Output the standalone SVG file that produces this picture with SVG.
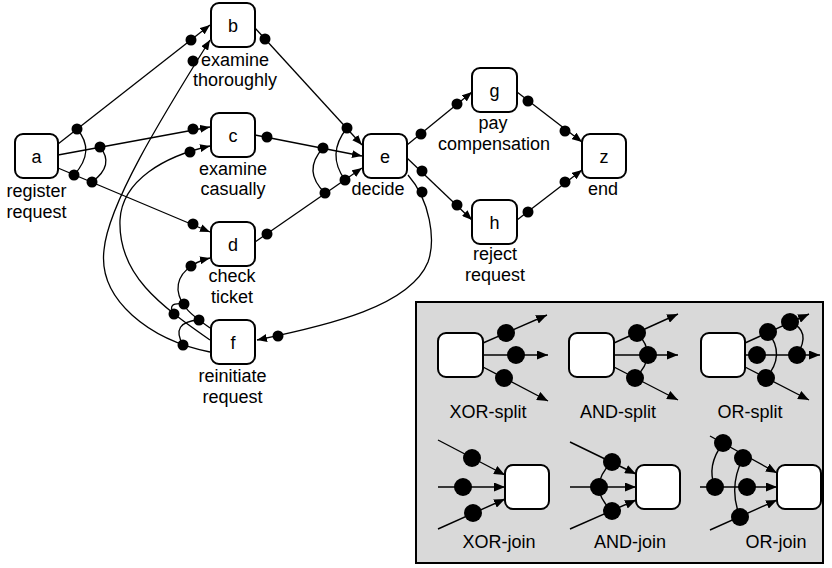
<svg xmlns="http://www.w3.org/2000/svg" width="832" height="568" viewBox="0 0 832 568">
  <style>
    .box { fill: #ffffff; stroke: #000000; stroke-width: 2; }
    .lbl { font-family: "Liberation Sans", Arial, sans-serif; font-size: 18px; fill: #000000; text-anchor: middle; }
    .arc { fill: none; stroke: #000000; stroke-width: 1.3; }
    .edge { fill: none; stroke: #000000; stroke-width: 1.3; marker-end: url(#arr); }
    .dot { fill: #000000; }
    .ledge { fill: none; stroke: #000000; stroke-width: 1.4; marker-end: url(#arrL); }
    .larc { fill: none; stroke: #000000; stroke-width: 1.4; }
  </style>
  <defs>
    <marker id="arr" viewBox="0 0 10 8" markerWidth="10" markerHeight="8" markerUnits="userSpaceOnUse" refX="10" refY="4" orient="auto">
      <path d="M0,0 L10,4 L0,8 z" fill="#000000"/>
    </marker>
    <marker id="arrL" viewBox="0 0 11 9" markerWidth="11" markerHeight="9" markerUnits="userSpaceOnUse" refX="11" refY="4.5" orient="auto">
      <path d="M0,0 L11,4.5 L0,9 z" fill="#000000"/>
    </marker>
  </defs>

  <rect width="832" height="568" fill="#ffffff"/>

  <!-- activities -->
  <g id="node-a">
    <rect class="box" x="15" y="134" width="43" height="44" rx="8"/>
    <text class="lbl" x="36.5" y="163">a</text>
    <text class="lbl" x="36.5" y="197">register</text>
    <text class="lbl" x="36.5" y="218">request</text>
  </g>
  <g id="node-b">
    <rect class="box" x="211" y="3" width="44" height="44" rx="8"/>
    <text class="lbl" x="233" y="32">b</text>
    <text class="lbl" x="235" y="66">examine</text>
    <text class="lbl" x="235" y="86">thoroughly</text>
  </g>
  <g id="node-c">
    <rect class="box" x="211" y="113" width="44" height="44" rx="8"/>
    <text class="lbl" x="233" y="142">c</text>
    <text class="lbl" x="233" y="175">examine</text>
    <text class="lbl" x="233" y="195">casually</text>
  </g>
  <g id="node-d">
    <rect class="box" x="211" y="222" width="44" height="44" rx="8"/>
    <text class="lbl" x="233" y="251">d</text>
    <text class="lbl" x="232" y="282">check</text>
    <text class="lbl" x="232" y="303">ticket</text>
  </g>
  <g id="node-f">
    <rect class="box" x="211" y="320" width="44" height="44" rx="8"/>
    <text class="lbl" x="233" y="349">f</text>
    <text class="lbl" x="232.5" y="382">reinitiate</text>
    <text class="lbl" x="232.5" y="403">request</text>
  </g>
  <g id="node-e">
    <rect class="box" x="363" y="134" width="44" height="44" rx="8"/>
    <text class="lbl" x="385" y="163">e</text>
    <text class="lbl" x="378" y="195">decide</text>
  </g>
  <g id="node-g">
    <rect class="box" x="472" y="68" width="45" height="44" rx="8"/>
    <text class="lbl" x="494.5" y="97">g</text>
    <text class="lbl" x="493" y="129">pay</text>
    <text class="lbl" x="494" y="150">compensation</text>
  </g>
  <g id="node-h">
    <rect class="box" x="472" y="200" width="45" height="44" rx="8"/>
    <text class="lbl" x="494.5" y="229">h</text>
    <text class="lbl" x="495" y="260">reject</text>
    <text class="lbl" x="495" y="281">request</text>
  </g>
  <g id="node-z">
    <rect class="box" x="582" y="134" width="44" height="44" rx="8"/>
    <text class="lbl" x="604" y="163">z</text>
    <text class="lbl" x="603" y="195">end</text>
  </g>

  <!-- causal arcs with their binding dots -->
  <g id="connectors">
    <path class="edge" d="M58,144 L210,25"/>
    <path class="edge" d="M58,155 L210,127"/>
    <path class="edge" d="M58,168 L210,232"/>
    <path class="arc" d="M77,129 Q96,151 74,175"/>
    <path class="arc" d="M100,147 Q115,165 92,182"/>

    <path class="edge" d="M255,28 L362,145"/>
    <path class="edge" d="M255,135 L362,156"/>
    <path class="edge" d="M255,242 L362,168"/>
    <path class="arc" d="M347,128 Q326,154 345,180"/>
    <path class="arc" d="M323,148 Q302,171 325,193"/>

    <path class="edge" d="M407,145 L472,92"/>
    <path class="edge" d="M407,158 L472,220"/>
    <path class="edge" d="M408,175 C430,200 436,240 428,262 C410,306 330,325 257,340"/>

    <path class="edge" d="M517,92 L582,142"/>
    <path class="edge" d="M517,220 L582,170"/>

    <path class="edge" d="M210,352 C150,340 98,300 104,250 C108,205 160,120 210,40"/>
    <path class="edge" d="M210,340 C160,305 118,275 120,220 C122,180 165,156 210,146"/>
    <path class="edge" d="M210,328 C196,318 180,308 178,290 C177,273 193,262 210,258"/>
    <path class="arc" d="M184,304 Q166,302 174,314"/>
    <path class="arc" d="M199,320 Q170,322 183,345"/>

    <g class="dot">
      <circle cx="77" cy="129" r="5.5"/>
      <circle cx="100" cy="147" r="5.5"/>
      <circle cx="74" cy="175" r="5.5"/>
      <circle cx="92" cy="182" r="5.5"/>
      <circle cx="191" cy="40" r="5.5"/>
      <circle cx="193" cy="129" r="5.5"/>
      <circle cx="193" cy="224" r="5.5"/>
      <circle cx="265" cy="39" r="5.5"/>
      <circle cx="267" cy="137" r="5.5"/>
      <circle cx="267" cy="234" r="5.5"/>
      <circle cx="347" cy="128" r="5.5"/>
      <circle cx="323" cy="148" r="5.5"/>
      <circle cx="345" cy="180" r="5.5"/>
      <circle cx="325" cy="193" r="5.5"/>
      <circle cx="421" cy="134" r="5.5"/>
      <circle cx="457" cy="104" r="5.5"/>
      <circle cx="422" cy="171" r="5.5"/>
      <circle cx="457" cy="205" r="5.5"/>
      <circle cx="422" cy="192" r="5.5"/>
      <circle cx="278" cy="336" r="5.5"/>
      <circle cx="528" cy="101" r="5.5"/>
      <circle cx="565" cy="131" r="5.5"/>
      <circle cx="528" cy="212" r="5.5"/>
      <circle cx="565" cy="182" r="5.5"/>
      <circle cx="193" cy="61" r="5.5"/>
      <circle cx="190" cy="152" r="5.5"/>
      <circle cx="191" cy="266" r="5.5"/>
      <circle cx="183" cy="345" r="5.5"/>
      <circle cx="174" cy="314" r="5.5"/>
      <circle cx="184" cy="304" r="5.5"/>
      <circle cx="199" cy="320" r="5.5"/>
    </g>
  </g>

  <!-- notation key -->
  <g id="legend">
    <rect x="416" y="302" width="407" height="261" fill="#d9d9d9" stroke="#000000" stroke-width="2"/>

    <!-- XOR-split -->
    <rect class="box" x="438" y="333" width="45" height="44" rx="8"/>
    <path class="ledge" d="M483,343 L547,315"/>
    <path class="ledge" d="M483,355 L548,355"/>
    <path class="ledge" d="M483,367 L548,401"/>
    <circle class="dot" cx="506" cy="333" r="9"/>
    <circle class="dot" cx="516" cy="355" r="9"/>
    <circle class="dot" cx="504" cy="378" r="9"/>
    <text class="lbl" x="488" y="418">XOR-split</text>

    <!-- AND-split -->
    <rect class="box" x="569" y="333" width="45" height="44" rx="8"/>
    <path class="ledge" d="M614,343 L678,314"/>
    <path class="ledge" d="M614,355 L678,355"/>
    <path class="ledge" d="M614,367 L678,400"/>
    <path class="larc" d="M637,333 Q659,355 635,378"/>
    <circle class="dot" cx="637" cy="333" r="9"/>
    <circle class="dot" cx="648" cy="355" r="9"/>
    <circle class="dot" cx="635" cy="378" r="9"/>
    <text class="lbl" x="618" y="418">AND-split</text>

    <!-- OR-split -->
    <rect class="box" x="701" y="333" width="44" height="44" rx="8"/>
    <path class="ledge" d="M745,343 L809,314"/>
    <path class="ledge" d="M745,355 L820,355"/>
    <path class="ledge" d="M745,367 L809,400"/>
    <path class="larc" d="M768,332 Q786,355 766,378"/>
    <path class="larc" d="M790,322 Q812,331 797,355"/>
    <circle class="dot" cx="768" cy="332" r="9"/>
    <circle class="dot" cx="790" cy="322" r="9"/>
    <circle class="dot" cx="757" cy="355" r="9"/>
    <circle class="dot" cx="797" cy="355" r="9"/>
    <circle class="dot" cx="766" cy="378" r="9"/>
    <text class="lbl" x="750" y="418">OR-split</text>

    <!-- XOR-join -->
    <rect class="box" x="505" y="465" width="44" height="44" rx="8"/>
    <path class="ledge" d="M438,440 L505,475"/>
    <path class="ledge" d="M438,487 L505,487"/>
    <path class="ledge" d="M438,529 L505,499"/>
    <circle class="dot" cx="472" cy="458" r="9"/>
    <circle class="dot" cx="463" cy="487" r="9"/>
    <circle class="dot" cx="473" cy="513" r="9"/>
    <text class="lbl" x="499" y="548">XOR-join</text>

    <!-- AND-join -->
    <rect class="box" x="636" y="465" width="44" height="44" rx="8"/>
    <path class="ledge" d="M570,442 L636,474"/>
    <path class="ledge" d="M570,487 L636,487"/>
    <path class="ledge" d="M570,529 L636,500"/>
    <path class="larc" d="M612,462 Q586,487 612,511"/>
    <circle class="dot" cx="612" cy="462" r="9"/>
    <circle class="dot" cx="599" cy="487" r="9"/>
    <circle class="dot" cx="612" cy="511" r="9"/>
    <text class="lbl" x="630" y="548">AND-join</text>

    <!-- OR-join -->
    <rect class="box" x="777" y="465" width="44" height="44" rx="8"/>
    <path class="ledge" d="M710,436 L777,473"/>
    <path class="ledge" d="M700,487 L777,487"/>
    <path class="ledge" d="M710,530 L777,500"/>
    <path class="larc" d="M723,443 Q706,466 715,487"/>
    <path class="larc" d="M743,458 Q728,487 740,517"/>
    <circle class="dot" cx="723" cy="443" r="9"/>
    <circle class="dot" cx="743" cy="458" r="9"/>
    <circle class="dot" cx="715" cy="487" r="9"/>
    <circle class="dot" cx="747" cy="487" r="9"/>
    <circle class="dot" cx="740" cy="517" r="9"/>
    <text class="lbl" x="776" y="548">OR-join</text>
  </g>
</svg>
